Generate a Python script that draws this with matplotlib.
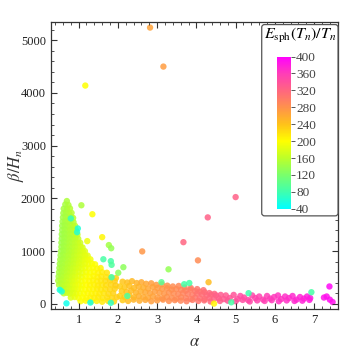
import numpy as np
import matplotlib
matplotlib.use("Agg")
import matplotlib.pyplot as plt
from matplotlib.colors import LinearSegmentedColormap, Normalize
from matplotlib.patches import FancyBboxPatch

plt.rcParams['font.family'] = ['Liberation Serif', 'DejaVu Serif']
plt.rcParams['mathtext.fontset'] = 'stix'

# dense cluster at small alpha (one line per beta row)
alpha_cluster = [
    0.70,
    0.66, 0.74,
    0.62, 0.70, 0.78,
    0.61, 0.68, 0.76, 0.82,
    0.60, 0.67, 0.74, 0.81, 0.86,
    0.59, 0.66, 0.73, 0.80, 0.87,
    0.58, 0.65, 0.72, 0.79, 0.86, 0.91,
    0.58, 0.65, 0.72, 0.79, 0.86, 0.93,
    0.57, 0.64, 0.71, 0.78, 0.85, 0.92, 0.97,
    0.57, 0.64, 0.71, 0.78, 0.85, 0.92, 0.99,
    0.56, 0.63, 0.70, 0.77, 0.84, 0.91, 0.98, 1.04,
    0.56, 0.63, 0.70, 0.77, 0.84, 0.91, 0.98, 1.05, 1.10,
    0.55, 0.62, 0.69, 0.76, 0.83, 0.90, 0.97, 1.04, 1.11, 1.16,
    0.54, 0.61, 0.68, 0.75, 0.82, 0.89, 0.96, 1.03, 1.10, 1.17, 1.23,
    0.53, 0.60, 0.67, 0.74, 0.81, 0.88, 0.95, 1.02, 1.09, 1.16, 1.23, 1.30,
    0.52, 0.59, 0.66, 0.73, 0.80, 0.87, 0.94, 1.01, 1.08, 1.16, 1.25, 1.34, 1.42,
    0.51, 0.58, 0.65, 0.72, 0.79, 0.86, 0.93, 1.00, 1.08, 1.17, 1.27, 1.37, 1.47, 1.56,
    0.50, 0.57, 0.64, 0.71, 0.78, 0.85, 0.92, 1.00, 1.09, 1.19, 1.29, 1.39, 1.49, 1.60, 1.72,
    0.49, 0.56, 0.63, 0.70, 0.77, 0.84, 0.91, 0.99, 1.08, 1.18, 1.28, 1.38, 1.48, 1.58, 1.70, 1.82, 1.95,
    0.48, 0.55, 0.62, 0.69, 0.76, 0.83, 0.90, 0.98, 1.07, 1.17, 1.27, 1.37, 1.47, 1.57, 1.68, 1.80, 1.92,
    0.50, 0.57, 0.64, 0.71, 0.78, 0.85, 0.92, 1.00, 1.09, 1.19, 1.29, 1.39, 1.49, 1.59, 1.70, 1.82, 1.94,
    0.55, 0.62, 0.69, 0.76, 0.83, 0.90, 0.98, 1.07, 1.17, 1.27, 1.37, 1.47, 1.57, 1.68, 1.80, 1.92,
    0.62, 0.70, 0.78, 0.86, 0.94, 1.03, 1.13, 1.23, 1.33, 1.43, 1.53, 1.64, 1.76, 1.88,
    0.80, 0.90, 1.00, 1.10, 1.20, 1.30, 1.40, 1.50, 1.61, 1.73, 1.85, 1.97,
    1.05, 1.18, 1.32, 1.46, 1.60, 1.75, 1.90,
]
beta_cluster = [
    1950,
    1885, 1875,
    1805, 1795, 1810,
    1720, 1730, 1715, 1725,
    1640, 1650, 1635, 1645, 1630,
    1560, 1565, 1555, 1570, 1550,
    1480, 1490, 1475, 1485, 1470, 1480,
    1400, 1410, 1395, 1405, 1390, 1400,
    1320, 1330, 1315, 1325, 1310, 1320, 1315,
    1240, 1250, 1235, 1245, 1230, 1240, 1235,
    1160, 1170, 1155, 1165, 1150, 1160, 1155, 1160,
    1080, 1090, 1075, 1085, 1070, 1080, 1075, 1085, 1070,
    1000, 1010, 995, 1005, 990, 1000, 995, 1005, 990, 1000,
    920, 930, 915, 925, 910, 920, 915, 925, 910, 920, 915,
    840, 850, 835, 845, 830, 840, 835, 845, 830, 840, 835, 845,
    760, 770, 755, 765, 750, 760, 755, 765, 750, 760, 755, 765, 750,
    680, 690, 675, 685, 670, 680, 675, 685, 670, 680, 675, 685, 670, 680,
    600, 610, 595, 605, 590, 600, 595, 605, 590, 600, 595, 605, 590, 600, 590,
    520, 530, 515, 525, 510, 520, 515, 525, 510, 520, 515, 525, 510, 520, 510, 500, 490,
    440, 450, 435, 445, 430, 440, 435, 445, 430, 440, 435, 445, 430, 440, 435, 445, 430,
    360, 370, 355, 365, 350, 360, 355, 365, 350, 360, 355, 365, 350, 360, 355, 365, 350,
    280, 290, 275, 285, 270, 280, 275, 285, 270, 280, 275, 285, 270, 280, 275, 285,
    200, 210, 195, 205, 190, 200, 195, 205, 190, 200, 195, 205, 190, 200,
    120, 130, 115, 125, 110, 120, 115, 125, 110, 120, 115, 125,
    50, 60, 45, 55, 40, 55, 45,
]
esph_cluster = [
    150,
    148, 152,
    146, 150, 154,
    145, 149, 152, 156,
    144, 148, 151, 155, 158,
    143, 147, 150, 154, 158,
    142, 146, 149, 153, 157, 160,
    142, 146, 149, 153, 157, 161,
    141, 145, 148, 152, 156, 160, 163,
    141, 145, 148, 152, 156, 160, 165,
    141, 144, 148, 152, 156, 160, 165, 170,
    142, 145, 149, 153, 157, 161, 166, 171, 175,
    142, 145, 149, 153, 157, 162, 167, 172, 177, 180,
    143, 146, 150, 154, 158, 163, 168, 173, 178, 183, 186,
    144, 147, 151, 155, 159, 164, 169, 174, 179, 184, 188, 192,
    145, 148, 152, 156, 160, 165, 170, 175, 180, 186, 191, 196, 200,
    146, 149, 153, 157, 162, 167, 172, 177, 183, 189, 194, 199, 203, 207,
    147, 150, 154, 159, 164, 169, 174, 180, 186, 192, 197, 202, 206, 211, 216,
    148, 152, 156, 161, 166, 171, 177, 183, 189, 195, 200, 204, 208, 213, 218, 224, 230,
    150, 154, 158, 163, 168, 174, 180, 186, 192, 198, 202, 206, 210, 215, 220, 226, 232,
    152, 156, 161, 166, 172, 178, 184, 190, 196, 201, 205, 208, 212, 217, 222, 228, 233,
    155, 160, 165, 171, 177, 183, 189, 195, 200, 204, 207, 211, 215, 220, 226, 231,
    160, 166, 172, 178, 185, 192, 198, 202, 205, 208, 212, 217, 223, 229,
    178, 186, 194, 200, 203, 206, 209, 212, 216, 221, 227, 232,
    198, 202, 205, 209, 213, 219, 226,
]

# low band stretching to large alpha
alpha_band = [
    2.12, 2.24, 2.36, 2.48, 2.60, 2.72, 2.85, 2.98, 3.12, 3.26, 3.40, 3.55, 3.70, 3.86, 4.02, 4.18,
    2.05, 2.17, 2.29, 2.41, 2.53, 2.65, 2.77, 2.89, 3.01, 3.13, 3.25, 3.37, 3.49, 3.61, 3.73, 3.85,
    3.97, 4.09, 4.21, 4.33, 4.46,
    2.10, 2.22, 2.34, 2.46, 2.58, 2.70, 2.82, 2.94, 3.06, 3.18, 3.30, 3.42, 3.54, 3.66, 3.78, 3.90,
    4.02, 4.14, 4.26, 4.38, 4.50, 4.62,
    2.05, 2.17, 2.29, 2.41, 2.53, 2.65, 2.77, 2.89, 3.01, 3.13, 3.25, 3.37, 3.49, 3.61, 3.73, 3.85,
    3.97, 4.09, 4.21, 4.33, 4.45, 4.57, 4.70,
    2.12, 2.26, 2.40, 2.55, 2.70, 2.85, 3.00, 3.15, 3.30, 3.45, 3.60, 3.75, 3.90, 4.05, 4.20, 4.36, 4.60,
    4.75, 4.85, 4.95, 5.05, 5.12, 5.22, 5.32, 5.42, 5.50, 5.60, 5.70, 5.80, 5.88, 5.98, 6.08, 6.16,
    6.26, 6.36, 6.45, 6.55, 6.64, 6.74, 6.82, 6.90, 7.25, 7.32, 7.40,
    4.80, 5.00, 5.18, 5.36, 5.55, 5.74, 5.92, 6.10, 6.30, 6.50, 6.70, 6.88,
]
beta_band = [
    420, 405, 430, 395, 410, 380, 390, 360, 370, 345, 330, 340, 310, 300, 280, 260,
    330, 315, 340, 300, 325, 310, 290, 320, 300, 285, 295, 270, 280, 265, 250, 270,
    240, 230, 220, 205, 190,
    240, 225, 250, 215, 235, 220, 205, 230, 210, 195, 215, 200, 185, 205, 190, 175,
    195, 180, 165, 175, 160, 170,
    150, 135, 160, 125, 145, 130, 115, 140, 120, 105, 130, 115, 100, 125, 110, 95,
    120, 105, 90, 110, 95, 105, 90,
    70, 55, 80, 60, 75, 50, 65, 80, 55, 70, 60, 50, 75, 55, 65, 45, 55,
    160, 110, 170, 90, 150, 120, 70, 160, 110, 140, 80, 150, 100, 130, 160, 90,
    140, 110, 150, 80, 130, 100, 140, 110, 120, 140, 80,
    60, 50, 75, 45, 65, 55, 70, 50, 65, 55, 60, 75,
]
esph_band = [
    238, 242, 248, 252, 258, 262, 268, 272, 276, 280, 284, 288, 292, 298, 304, 310,
    232, 236, 242, 246, 252, 256, 262, 266, 270, 274, 278, 282, 286, 290, 294, 298,
    302, 308, 314, 318, 322,
    235, 240, 245, 250, 255, 260, 264, 268, 272, 276, 280, 284, 288, 292, 296, 300,
    306, 312, 316, 320, 326, 330,
    230, 236, 242, 248, 254, 258, 262, 266, 270, 274, 278, 282, 286, 290, 294, 298,
    304, 310, 314, 318, 324, 328, 332,
    234, 244, 250, 256, 262, 268, 272, 278, 282, 286, 290, 296, 300, 306, 312, 318, 328,
    332, 336, 338, 342, 344, 346, 348, 350, 352, 354, 356, 358, 360, 362, 364, 366,
    368, 370, 372, 374, 376, 378, 380, 382, 388, 390, 392,
    334, 340, 345, 349, 353, 357, 361, 365, 369, 373, 377, 381,
]

# isolated points
alpha_out = [1.17, 2.82, 3.16, 5.00, 4.29, 3.67, 4.04, 2.62, 3.29, 1.07, 1.35, 1.60, 1.22,
             1.77, 1.83, 1.63, 1.82, 1.84, 2.14, 2.01, 0.98, 0.96, 0.80, 4.31, 3.11, 3.69,
             3.82, 5.33, 4.89, 6.93, 7.39, 7.47, 4.45, 0.69, 1.30, 1.82, 0.52, 0.57, 1.84, 2.24]
beta_out = [4140, 5240, 4500, 2025, 1640, 1170, 825, 995, 655, 1870, 1700, 1265, 1190,
            1115, 1055, 846, 810, 740, 695, 590, 1430, 1360, 1620, 411, 411, 373,
            395, 203, 30, 221, 330, 35, 5, 10, 25, 20, 265, 235, 505, 150]
esph_out = [200, 265, 270, 325, 325, 320, 285, 275, 135, 150, 200, 205, 190,
            145, 135, 85, 85, 90, 130, 130, 60, 65, 75, 245, 95, 85,
            85, 80, 85, 85, 395, 390, 205, 50, 55, 70, 55, 60, 80, 90]

cbar_ticks = [40, 80, 120, 160, 200, 240, 280, 320, 360, 400]

cmap = LinearSegmentedColormap.from_list('esph', [
    (0.000, (0.00, 1.00, 1.00)),
    (0.111, (0.25, 1.00, 0.68)),
    (0.222, (0.48, 1.00, 0.42)),
    (0.333, (0.74, 1.00, 0.16)),
    (0.444, (1.00, 1.00, 0.00)),
    (0.556, (1.00, 0.76, 0.10)),
    (0.667, (1.00, 0.57, 0.30)),
    (0.778, (1.00, 0.40, 0.50)),
    (0.889, (1.00, 0.24, 0.72)),
    (1.000, (1.00, 0.00, 1.00)),
])
norm = Normalize(40, 400)

fig = plt.figure(figsize=(3.6, 3.51), dpi=100)
ax = fig.add_axes([0.141, 0.12, 0.797, 0.818])

for a, b, e in [(alpha_cluster, beta_cluster, esph_cluster),
                (alpha_band, beta_band, esph_band),
                (alpha_out, beta_out, esph_out)]:
    ax.scatter(a, b, c=e, cmap=cmap, norm=norm, s=21, linewidths=0, alpha=0.85)

ax.set_xlim(0.29, 7.6)
ax.set_ylim(-95, 5350)
ax.set_xticks([1, 2, 3, 4, 5, 6, 7])
ax.set_xticks(np.arange(0.4, 7.6, 0.2), minor=True)
ax.set_yticks([0, 1000, 2000, 3000, 4000, 5000])
ax.set_yticks(np.arange(0, 5400, 200), minor=True)
ax.tick_params(which='both', direction='in', top=True, right=True,
               labelsize=9, labelcolor='#222222', color='#333333')
ax.tick_params(which='major', length=4, width=0.8)
ax.tick_params(which='minor', length=2.3, width=0.6)
for sp in ax.spines.values():
    sp.set_color('#333333')
    sp.set_linewidth(0.9)

ax.set_xlabel(r'$\alpha$', fontsize=12, color='#333333', labelpad=6)
ax.set_ylabel(r'$\beta/H_n$', fontsize=12, color='#333333')
ax.yaxis.set_label_coords(-0.088, 0.5)

# legend box with colour bar
box = FancyBboxPatch((0.727, 0.385), 0.212, 0.545, boxstyle='round,pad=0,rounding_size=0.008',
                     transform=fig.transFigure, facecolor='white', edgecolor='#555555',
                     linewidth=0.9, zorder=5)
fig.patches.append(box)
fig.text(0.833, 0.9, r'$E_{\rm sph}(T_n)/T_n$', ha='center', va='center', fontsize=11.5,
         zorder=6)

cax = fig.add_axes([0.769, 0.405, 0.038, 0.434])
cax.set_zorder(10)
cb = fig.colorbar(plt.cm.ScalarMappable(norm=norm, cmap=cmap), cax=cax, ticks=cbar_ticks)
cb.outline.set_visible(False)
cax.tick_params(direction='out', length=3, width=0.7, labelsize=9.5, labelcolor='#444444',
                color='#555555', pad=1)

fig.savefig('out.png', dpi=100)
